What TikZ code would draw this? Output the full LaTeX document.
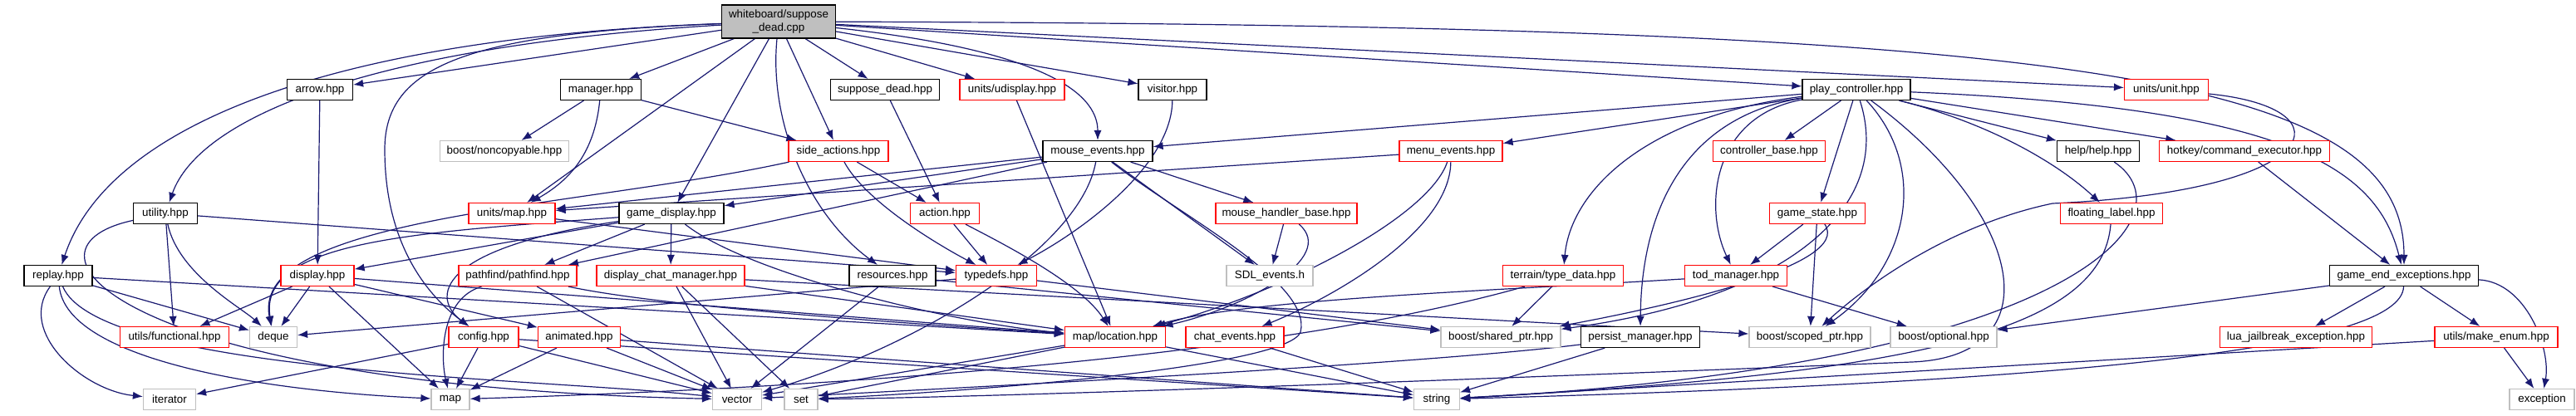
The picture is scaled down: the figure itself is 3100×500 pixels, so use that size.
\documentclass[tikz,border=0pt]{standalone}
\usepackage{fontspec}
\setmainfont{Liberation Sans}
\usetikzlibrary{arrows.meta}
\definecolor{edgec}{HTML}{191970}
\definecolor{grayc}{HTML}{BFBFBF}
\definecolor{redc}{HTML}{FF0000}
\pgfdeclarelayer{bg}
\pgfsetlayers{bg,main}
\tikzset{
  box/.style={rectangle, line width=0.6pt, minimum height=12.5pt, inner sep=0pt, fill=white, font=\fontsize{6.7}{7.6}\selectfont},
  bk/.style={box, draw=black, minimum width=#1*0.5pt},
  rd/.style={box, draw=redc, minimum width=#1*0.5pt},
  gy/.style={box, draw=grayc, minimum width=#1*0.5pt},
  dep/.style={draw=edgec, line width=0.6pt, -{Latex[length=6pt,width=4.6pt]}},
}
\begin{document}
\begin{tikzpicture}[x=0.5pt,y=-0.5pt]
\useasboundingbox (0,0) rectangle (3100,500);
% row 0
\node[box, fill=grayc, draw=black, minimum width=68.5pt, minimum height=20pt, align=center] (root) at (937,26) {whiteboard/suppose\\\_dead.cpp};
% row 1
\node[bk=79] (arrow) at (385,108) {arrow.hpp};
\node[bk=97] (manager) at (723,108) {manager.hpp};
\node[bk=131] (sdh) at (1065,108) {suppose\_dead.hpp};
\node[rd=126] (udisplay) at (1218,108) {units/udisplay.hpp};
\node[bk=82] (visitor) at (1411,108) {visitor.hpp};
\node[bk=130] (pc) at (2234,108) {play\_controller.hpp};
\node[rd=101] (unit) at (2607,108) {units/unit.hpp};
% row 2
\node[gy=155] (noncopy) at (607,182) {boost/noncopyable.hpp};
\node[rd=120] (side) at (1009,182) {side\_actions.hpp};
\node[bk=132] (mev) at (1321,182) {mouse\_events.hpp};
\node[rd=124] (menu) at (1746,182) {menu\_events.hpp};
\node[rd=135] (ctrl) at (2129,182) {controller\_base.hpp};
\node[bk=99] (help) at (2525,182) {help/help.hpp};
\node[rd=205] (cmd) at (2701,182) {hotkey/command\_executor.hpp};
% row 3
\node[bk=77] (utility) at (199,257) {utility.hpp};
\node[rd=104] (umap) at (616,257) {units/map.hpp};
\node[bk=126] (gdisp) at (808,257) {game\_display.hpp};
\node[rd=83] (action) at (1137,257) {action.hpp};
\node[rd=170] (mhb) at (1548,257) {mouse\_handler\_base.hpp};
\node[rd=115] (gstate) at (2187,257) {game\_state.hpp};
\node[rd=123] (flabel) at (2541,257) {floating\_label.hpp};
% row 4
\node[bk=82] (replay) at (70,332) {replay.hpp};
\node[rd=88] (display) at (382,332) {display.hpp};
\node[rd=142] (pathfind) at (623,332) {pathfind/pathfind.hpp};
\node[rd=178] (dcm) at (807,332) {display\_chat\_manager.hpp};
\node[bk=104] (resources) at (1074,332) {resources.hpp};
\node[rd=97] (typedefs) at (1199,332) {typedefs.hpp};
\node[gy=104] (sdl) at (1528,332) {SDL\_events.h};
\node[rd=145] (tdata) at (1881,332) {terrain/type\_data.hpp};
\node[rd=123] (tod) at (2089,332) {tod\_manager.hpp};
\node[bk=179] (gee) at (2893,332) {game\_end\_exceptions.hpp};
% row 5
\node[rd=131] (functional) at (210,406) {utils/functional.hpp};
\node[gy=57] (deque) at (329,406) {deque};
\node[rd=84] (config) at (582,406) {config.hpp};
\node[rd=99] (animated) at (697,406) {animated.hpp};
\node[rd=121] (location) at (1342,406) {map/location.hpp};
\node[rd=118] (chatev) at (1486,406) {chat\_events.hpp};
\node[gy=144] (shptr) at (1806,406) {boost/shared\_ptr.hpp};
\node[bk=143] (persist) at (1974,406) {persist\_manager.hpp};
\node[gy=146] (scptr) at (2178,406) {boost/scoped\_ptr.hpp};
\node[gy=128] (optional) at (2339,406) {boost/optional.hpp};
\node[rd=183] (lua) at (2763,406) {lua\_jailbreak\_exception.hpp};
\node[rd=148] (menum) at (3004,406) {utils/make\_enum.hpp};
% row 6
\node[gy=63] (iterator) at (204,481) {iterator};
\node[gy=46] (map) at (542,481) {map};
\node[gy=59] (vector) at (887,481) {vector};
\node[gy=40] (set) at (964,481) {set};
\node[gy=55] (string) at (1729,481) {string};
\node[gy=78] (exception) at (3059,481) {exception};

\begin{pgfonlayer}{bg}
% root
\draw[dep] (root) .. controls (400,45) and (130,150) .. (replay);
\draw[dep] (root) .. controls (450,55) and (240,140) .. (utility);
\draw[dep] (root) -- (arrow);
\draw[dep] (root) -- (manager);
\draw[dep] (root) -- (umap);
\draw[dep] (root) .. controls (560,40) and (463,80) .. (463,180) .. controls (463,300) and (520,360) .. (config);
\draw[dep] (root) -- (gdisp);
\draw[dep] (root) .. controls (925,150) and (975,260) .. (resources);
\draw[dep] (root) -- (side);
\draw[dep] (root) -- (sdh);
\draw[dep] (root) -- (udisplay);
\draw[dep] (root) -- (visitor);
\draw[dep] (root) .. controls (1250,60) and (1321,110) .. (mev);
\draw[dep] (root) -- (pc);
\draw[dep] (root) -- (unit);
\draw[dep] (root) .. controls (2500,30) and (2893,90) .. (gee);
% row 1
\draw[dep] (arrow) -- (display);
\draw[dep] (manager) -- (noncopy);
\draw[dep] (manager) .. controls (715,190) and (680,220) .. (umap);
\draw[dep] (manager) -- (side);
\draw[dep] (sdh) -- (action);
\draw[dep] (udisplay) -- (location);
\draw[dep] (visitor) .. controls (1410,200) and (1300,280) .. (typedefs);
% play_controller
\draw[dep] (pc) -- (mev);
\draw[dep] (pc) -- (menu);
\draw[dep] (pc) .. controls (1980,140) and (1890,230) .. (tdata);
\draw[dep] (pc) .. controls (2030,140) and (1975,250) .. (persist);
\draw[dep] (pc) .. controls (2060,140) and (2050,250) .. (tod);
\draw[dep] (pc) -- (ctrl);
\draw[dep] (pc) -- (gstate);
\draw[dep] (pc) .. controls (2280,250) and (2150,360) .. (shptr);
\draw[dep] (pc) .. controls (2320,200) and (2300,320) .. (scptr);
\draw[dep] (pc) .. controls (2440,260) and (2470,430) .. (2300,436) .. controls (1700,460) and (1200,478) .. (set);
\draw[dep] (pc) -- (help);
\draw[dep] (pc) -- (cmd);
\draw[dep] (pc) .. controls (2400,150) and (2480,200) .. (flabel);
\draw[dep] (pc) .. controls (2750,130) and (2860,200) .. (gee);
% right side
\draw[dep] (unit) .. controls (2830,130) and (2800,230) .. (2470,245) .. controls (2350,270) and (2250,340) .. (scptr);
\draw[dep] (cmd) -- (gee);
\draw[dep] (help) .. controls (2640,260) and (2500,440) .. (string);
\draw[dep] (flabel) .. controls (2530,400) and (2300,450) .. (string);
\draw[dep] (gee) .. controls (2890,420) and (2500,460) .. (string);
\draw[dep] (menum) -- (string);
\draw[dep] (gee) -- (optional);
\draw[dep] (gee) -- (lua);
\draw[dep] (gee) -- (menum);
\draw[dep] (gee) .. controls (3040,340) and (3070,420) .. (exception);
\draw[dep] (menum) -- (exception);
\draw[dep] (persist) -- (string);
\draw[dep] (persist) .. controls (1700,440) and (1100,470) .. (vector);
\draw[dep] (gstate) -- (tod);
\draw[dep] (gstate) .. controls (2230,320) and (2000,370) .. (shptr);
\draw[dep] (gstate) -- (scptr);
\draw[dep] (tdata) -- (shptr);
\draw[dep] (tdata) .. controls (1500,440) and (900,470) .. (map);
\draw[dep] (tod) .. controls (1800,350) and (1500,360) .. (location);
\draw[dep] (tod) -- (optional);
\draw[dep] (mhb) -- (sdl);
\draw[dep] (mhb) .. controls (1610,310) and (1500,370) .. (location);
\draw[dep] (menu) -- (umap);
\draw[dep] (menu) .. controls (1720,260) and (1550,350) .. (location);
\draw[dep] (menu) .. controls (1745,280) and (1600,360) .. (chatev);
% mouse_events
\draw[dep] (mev) -- (umap);
\draw[dep] (mev) -- (gdisp);
\draw[dep] (mev) -- (pathfind);
\draw[dep] (mev) -- (mhb);
\draw[dep] (mev) -- (sdl);
\draw[dep] (mev) .. controls (1300,300) and (1100,420) .. (vector);
\draw[dep] (mev) .. controls (1420,260) and (1580,340) .. (1565,400) .. controls (1550,440) and (1200,470) .. (set);
% side actions
\draw[dep] (side) -- (action);
\draw[dep] (side) .. controls (1040,240) and (1120,290) .. (typedefs);
\draw[dep] (side) .. controls (700,250) and (300,260) .. (deque);
% game display
\draw[dep] (gdisp) .. controls (500,280) and (310,290) .. (deque);
\draw[dep] (gdisp) -- (display);
\draw[dep] (gdisp) -- (dcm);
\draw[dep] (gdisp) -- (pathfind);
\draw[dep] (gdisp) .. controls (520,300) and (520,360) .. (config);
\draw[dep] (gdisp) .. controls (900,330) and (1150,390) .. (location);
% display
\draw[dep] (display) -- (functional);
\draw[dep] (display) -- (deque);
\draw[dep] (display) -- (map);
\draw[dep] (display) -- (animated);
\draw[dep] (display) -- (location);
% action, typedefs, resources
\draw[dep] (action) -- (typedefs);
\draw[dep] (action) .. controls (1200,290) and (1300,340) .. (location);
\draw[dep] (typedefs) -- (deque);
\draw[dep] (typedefs) -- (shptr);
\draw[dep] (resources) -- (vector);
\draw[dep] (resources) -- (shptr);
\draw[dep] (umap) -- (typedefs);
% display_chat_manager
\draw[dep] (dcm) -- (vector);
\draw[dep] (dcm) -- (set);
\draw[dep] (dcm) -- (location);
\draw[dep] (dcm) -- (scptr);
% pathfind
\draw[dep] (pathfind) .. controls (530,360) and (530,430) .. (map);
\draw[dep] (pathfind) -- (vector);
\draw[dep] (pathfind) .. controls (800,370) and (1100,390) .. (location);
% config, animated
\draw[dep] (config) -- (iterator);
\draw[dep] (config) -- (map);
\draw[dep] (config) -- (vector);
\draw[dep] (config) -- (string);
\draw[dep] (animated) -- (map);
\draw[dep] (animated) -- (vector);
\draw[dep] (animated) -- (string);
% location, chat events
\draw[dep] (location) -- (vector);
\draw[dep] (location) -- (set);
\draw[dep] (location) -- (string);
\draw[dep] (chatev) -- (string);
% replay
\draw[dep] (replay) .. controls (20,400) and (100,470) .. (iterator);
\draw[dep] (replay) .. controls (80,430) and (300,470) .. (map);
\draw[dep] (replay) .. controls (120,450) and (650,455) .. (vector);
\draw[dep] (replay) -- (deque);
\draw[dep] (replay) -- (location);
% utility
\draw[dep] (utility) -- (functional);
\draw[dep] (utility) .. controls (215,330) and (290,370) .. (deque);
\draw[dep] (utility) -- (typedefs);
\draw[dep] (utility) .. controls (0,300) and (150,465) .. (vector);
\end{pgfonlayer}
\end{tikzpicture}
\end{document}
